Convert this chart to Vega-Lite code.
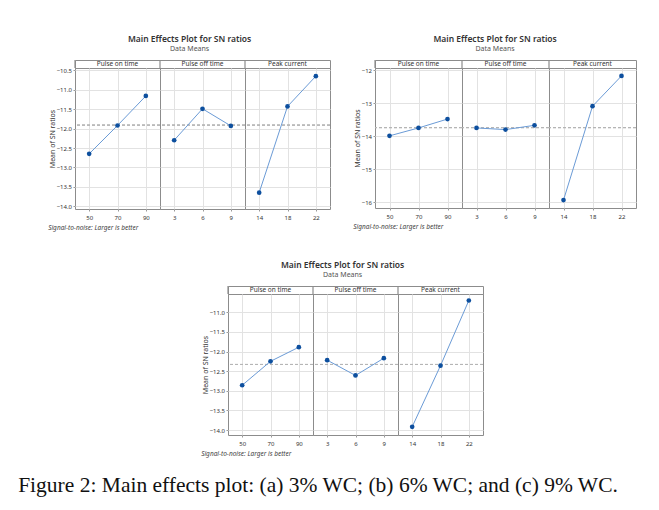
{
  "$schema": "https://vega.github.io/schema/vega-lite/v6.json",
  "background": "white",
  "padding": {"left": 18, "top": 35, "right": 5, "bottom": 5},
  "datasets": {
    "strips": [{"factor": "Pulse on time"}, {"factor": "Pulse off time"}, {"factor": "Peak current"}],
    "a": [
      {"factor": "Pulse on time", "level": 50, "sn": -12.65},
      {"factor": "Pulse on time", "level": 70, "sn": -11.92},
      {"factor": "Pulse on time", "level": 90, "sn": -11.16},
      {"factor": "Pulse off time", "level": 3, "sn": -12.30},
      {"factor": "Pulse off time", "level": 6, "sn": -11.49},
      {"factor": "Pulse off time", "level": 9, "sn": -11.93},
      {"factor": "Peak current", "level": 14, "sn": -13.65},
      {"factor": "Peak current", "level": 18, "sn": -11.43},
      {"factor": "Peak current", "level": 22, "sn": -10.65}
    ],
    "b": [
      {"factor": "Pulse on time", "level": 50, "sn": -13.99},
      {"factor": "Pulse on time", "level": 70, "sn": -13.75},
      {"factor": "Pulse on time", "level": 90, "sn": -13.48},
      {"factor": "Pulse off time", "level": 3, "sn": -13.75},
      {"factor": "Pulse off time", "level": 6, "sn": -13.80},
      {"factor": "Pulse off time", "level": 9, "sn": -13.67},
      {"factor": "Peak current", "level": 14, "sn": -15.94},
      {"factor": "Peak current", "level": 18, "sn": -13.09},
      {"factor": "Peak current", "level": 22, "sn": -12.17}
    ],
    "c": [
      {"factor": "Pulse on time", "level": 50, "sn": -12.86},
      {"factor": "Pulse on time", "level": 70, "sn": -12.25},
      {"factor": "Pulse on time", "level": 90, "sn": -11.89},
      {"factor": "Pulse off time", "level": 3, "sn": -12.22},
      {"factor": "Pulse off time", "level": 6, "sn": -12.61},
      {"factor": "Pulse off time", "level": 9, "sn": -12.17},
      {"factor": "Peak current", "level": 14, "sn": -13.92},
      {"factor": "Peak current", "level": 18, "sn": -12.36},
      {"factor": "Peak current", "level": 22, "sn": -10.70}
    ]
  },
  "title": {"text": "Figure 2: Main effects plot: (a) 3% WC; (b) 6% WC; and (c) 9% WC.", "orient": "bottom", "anchor": "start", "font": "Liberation Serif", "fontSize": 21.5, "fontWeight": "normal", "color": "#111", "offset": 18, "dx": -30},
  "spacing": 30,
  "center": true,
  "vconcat": [
    {
      "spacing": 22,
      "hconcat": [
        {
          "title": {"text": "Main Effects Plot for SN ratios", "subtitle": "Data Means", "anchor": "middle", "frame": "bounds"},
          "spacing": 0,
          "bounds": "flush",
          "vconcat": [
            {
              "data": {"name": "strips"},
              "width": 255,
              "height": 8,
              "layer": [
                {"mark": {"type": "rule", "color": "#8c8c8c", "strokeWidth": 1.2}, "encoding": {"x": {"field": "factor", "type": "nominal", "sort": ["Pulse on time", "Pulse off time", "Peak current"], "bandPosition": 0, "scale": {"type": "band", "paddingInner": 0, "paddingOuter": 0}, "axis": null}}},
                {"mark": {"type": "text", "fontSize": 6.5, "color": "#333", "baseline": "middle"}, "encoding": {"x": {"field": "factor", "type": "nominal", "sort": ["Pulse on time", "Pulse off time", "Peak current"], "scale": {"type": "band", "paddingInner": 0, "paddingOuter": 0}, "axis": null}, "text": {"field": "factor", "type": "nominal"}}}
              ]
            },
            {
              "data": {"name": "a"},
              "facet": {"column": {"field": "factor", "type": "nominal", "sort": ["Pulse on time", "Pulse off time", "Peak current"], "header": {"labels": false, "title": null}}},
              "spacing": 0,
              "bounds": "flush",
              "resolve": {"scale": {"x": "independent"}},
              "title": {"text": "Signal-to-noise: Larger is better", "orient": "bottom", "anchor": "start", "fontSize": 6.5, "fontStyle": "italic", "fontWeight": "normal", "color": "#444", "offset": 4},
              "spec": {
                "width": 85,
                "height": 141,
                "layer": [
                  {"mark": {"type": "rule", "strokeDash": [3, 2], "color": "#b5b5b5", "strokeWidth": 1}, "encoding": {"y": {"datum": -11.91, "type": "quantitative", "title": "Mean of SN ratios", "scale": {"domain": [-14.07, -10.44], "nice": false, "zero": false}, "axis": {"values": [-10.5, -11, -11.5, -12, -12.5, -13, -13.5, -14], "format": ".1f"}}}},
                  {"mark": {"type": "line", "color": "#6b9bd6", "strokeWidth": 1}, "encoding": {
                    "x": {"field": "level", "type": "ordinal", "title": null, "scale": {"type": "point", "padding": 0.5}, "axis": {"labelAngle": 0, "grid": true}},
                    "y": {"field": "sn", "type": "quantitative", "title": "Mean of SN ratios", "scale": {"domain": [-14.07, -10.44], "nice": false, "zero": false}, "axis": {"values": [-10.5, -11, -11.5, -12, -12.5, -13, -13.5, -14], "format": ".1f"}}}},
                  {"mark": {"type": "circle", "color": "#0d4f9e", "size": 22, "opacity": 1}, "encoding": {
                    "x": {"field": "level", "type": "ordinal", "title": null, "scale": {"type": "point", "padding": 0.5}, "axis": {"labelAngle": 0, "grid": true}},
                    "y": {"field": "sn", "type": "quantitative", "title": "Mean of SN ratios", "scale": {"domain": [-14.07, -10.44], "nice": false, "zero": false}, "axis": {"values": [-10.5, -11, -11.5, -12, -12.5, -13, -13.5, -14], "format": ".1f"}}}}
                ]
              }
            }
          ]
        },
        {
          "title": {"text": "Main Effects Plot for SN ratios", "subtitle": "Data Means", "anchor": "middle", "frame": "bounds"},
          "spacing": 0,
          "bounds": "flush",
          "vconcat": [
            {
              "data": {"name": "strips"},
              "width": 261,
              "height": 8,
              "layer": [
                {"mark": {"type": "rule", "color": "#8c8c8c", "strokeWidth": 1.2}, "encoding": {"x": {"field": "factor", "type": "nominal", "sort": ["Pulse on time", "Pulse off time", "Peak current"], "bandPosition": 0, "scale": {"type": "band", "paddingInner": 0, "paddingOuter": 0}, "axis": null}}},
                {"mark": {"type": "text", "fontSize": 6.5, "color": "#333", "baseline": "middle"}, "encoding": {"x": {"field": "factor", "type": "nominal", "sort": ["Pulse on time", "Pulse off time", "Peak current"], "scale": {"type": "band", "paddingInner": 0, "paddingOuter": 0}, "axis": null}, "text": {"field": "factor", "type": "nominal"}}}
              ]
            },
            {
              "data": {"name": "b"},
              "facet": {"column": {"field": "factor", "type": "nominal", "sort": ["Pulse on time", "Pulse off time", "Peak current"], "header": {"labels": false, "title": null}}},
              "spacing": 0,
              "bounds": "flush",
              "resolve": {"scale": {"x": "independent"}},
              "title": {"text": "Signal-to-noise: Larger is better", "orient": "bottom", "anchor": "start", "fontSize": 6.5, "fontStyle": "italic", "fontWeight": "normal", "color": "#444", "offset": 4},
              "spec": {
                "width": 87,
                "height": 140,
                "layer": [
                  {"mark": {"type": "rule", "strokeDash": [3, 2], "color": "#b5b5b5", "strokeWidth": 1}, "encoding": {"y": {"datum": -13.74, "type": "quantitative", "title": "Mean of SN ratios", "scale": {"domain": [-16.18, -11.93], "nice": false, "zero": false}, "axis": {"values": [-12, -13, -14, -15, -16], "format": "d"}}}},
                  {"mark": {"type": "line", "color": "#6b9bd6", "strokeWidth": 1}, "encoding": {
                    "x": {"field": "level", "type": "ordinal", "title": null, "scale": {"type": "point", "padding": 0.5}, "axis": {"labelAngle": 0, "grid": true}},
                    "y": {"field": "sn", "type": "quantitative", "title": "Mean of SN ratios", "scale": {"domain": [-16.18, -11.93], "nice": false, "zero": false}, "axis": {"values": [-12, -13, -14, -15, -16], "format": "d"}}}},
                  {"mark": {"type": "circle", "color": "#0d4f9e", "size": 22, "opacity": 1}, "encoding": {
                    "x": {"field": "level", "type": "ordinal", "title": null, "scale": {"type": "point", "padding": 0.5}, "axis": {"labelAngle": 0, "grid": true}},
                    "y": {"field": "sn", "type": "quantitative", "title": "Mean of SN ratios", "scale": {"domain": [-16.18, -11.93], "nice": false, "zero": false}, "axis": {"values": [-12, -13, -14, -15, -16], "format": "d"}}}}
                ]
              }
            }
          ]
        }
      ]
    },
    {
      "title": {"text": "Main Effects Plot for SN ratios", "subtitle": "Data Means", "anchor": "middle", "frame": "bounds"},
      "spacing": 0,
      "bounds": "flush",
      "vconcat": [
        {
          "data": {"name": "strips"},
          "width": 255,
          "height": 8,
          "layer": [
            {"mark": {"type": "rule", "color": "#8c8c8c", "strokeWidth": 1.2}, "encoding": {"x": {"field": "factor", "type": "nominal", "sort": ["Pulse on time", "Pulse off time", "Peak current"], "bandPosition": 0, "scale": {"type": "band", "paddingInner": 0, "paddingOuter": 0}, "axis": null}}},
            {"mark": {"type": "text", "fontSize": 6.5, "color": "#333", "baseline": "middle"}, "encoding": {"x": {"field": "factor", "type": "nominal", "sort": ["Pulse on time", "Pulse off time", "Peak current"], "scale": {"type": "band", "paddingInner": 0, "paddingOuter": 0}, "axis": null}, "text": {"field": "factor", "type": "nominal"}}}
          ]
        },
        {
          "data": {"name": "c"},
          "facet": {"column": {"field": "factor", "type": "nominal", "sort": ["Pulse on time", "Pulse off time", "Peak current"], "header": {"labels": false, "title": null}}},
          "spacing": 0,
          "bounds": "flush",
          "resolve": {"scale": {"x": "independent"}},
          "title": {"text": "Signal-to-noise: Larger is better", "orient": "bottom", "anchor": "start", "fontSize": 6.5, "fontStyle": "italic", "fontWeight": "normal", "color": "#444", "offset": 4},
          "spec": {
            "width": 85,
            "height": 141,
            "layer": [
              {"mark": {"type": "rule", "strokeDash": [3, 2], "color": "#b5b5b5", "strokeWidth": 1}, "encoding": {"y": {"datum": -12.33, "type": "quantitative", "title": "Mean of SN ratios", "scale": {"domain": [-14.127, -10.535], "nice": false, "zero": false}, "axis": {"values": [-11, -11.5, -12, -12.5, -13, -13.5, -14], "format": ".1f"}}}},
              {"mark": {"type": "line", "color": "#6b9bd6", "strokeWidth": 1}, "encoding": {
                "x": {"field": "level", "type": "ordinal", "title": null, "scale": {"type": "point", "padding": 0.5}, "axis": {"labelAngle": 0, "grid": true}},
                "y": {"field": "sn", "type": "quantitative", "title": "Mean of SN ratios", "scale": {"domain": [-14.127, -10.535], "nice": false, "zero": false}, "axis": {"values": [-11, -11.5, -12, -12.5, -13, -13.5, -14], "format": ".1f"}}}},
              {"mark": {"type": "circle", "color": "#0d4f9e", "size": 22, "opacity": 1}, "encoding": {
                "x": {"field": "level", "type": "ordinal", "title": null, "scale": {"type": "point", "padding": 0.5}, "axis": {"labelAngle": 0, "grid": true}},
                "y": {"field": "sn", "type": "quantitative", "title": "Mean of SN ratios", "scale": {"domain": [-14.127, -10.535], "nice": false, "zero": false}, "axis": {"values": [-11, -11.5, -12, -12.5, -13, -13.5, -14], "format": ".1f"}}}}
            ]
          }
        }
      ]
    }
  ],
  "config": {
    "font": "Noto Sans",
    "view": {"stroke": "#8c8c8c", "strokeWidth": 1},
    "axis": {"labelFontSize": 6, "labelColor": "#333", "titleFontSize": 7, "titleFontWeight": "normal", "titleColor": "#333", "grid": true, "gridColor": "#e2e2e2", "gridWidth": 1, "tickColor": "#999", "tickSize": 2, "domain": false, "labelPadding": 1.5, "titlePadding": 1},
    "axisY": {"labelOverlap": false, "grid": true},
    "axisX": {"labelPadding": 3, "grid": true},
    "title": {"fontSize": 8.5, "fontWeight": 600, "color": "#333", "subtitleFontSize": 7, "subtitleColor": "#555", "subtitlePadding": 1, "offset": 7}
  }
}
